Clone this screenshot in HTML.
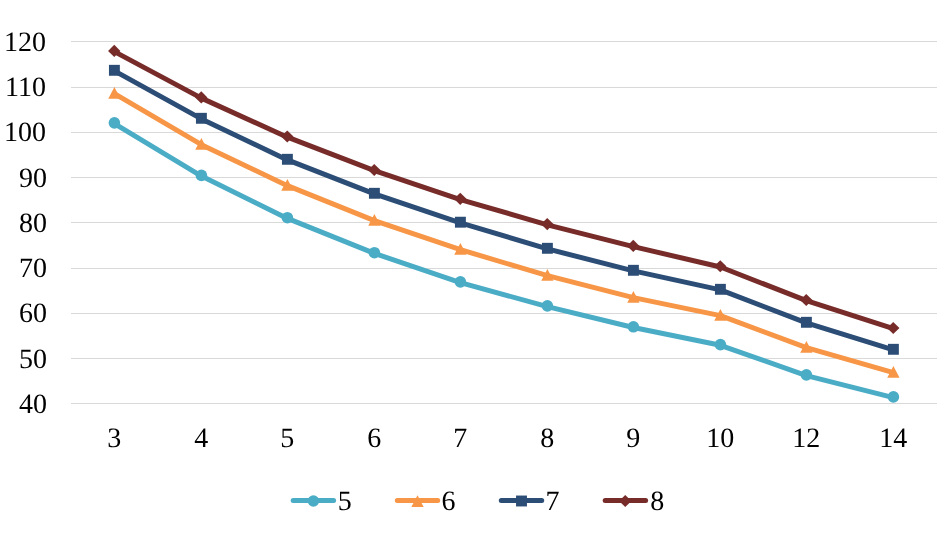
<!DOCTYPE html>
<html><head><meta charset="utf-8"><style>
html,body{margin:0;padding:0;background:#fff;overflow:hidden}
svg{display:block;will-change:transform}
text{font-family:"Liberation Serif",serif;font-size:28px;fill:#000;text-rendering:geometricPrecision}
</style></head><body>
<svg width="951" height="550" viewBox="0 0 951 550">
<rect width="951" height="550" fill="#fff"/>
<rect x="71" y="41" width="866" height="1" fill="#d9d9d9"/>
<rect x="71" y="87" width="866" height="1" fill="#d9d9d9"/>
<rect x="71" y="132" width="866" height="1" fill="#d9d9d9"/>
<rect x="71" y="177" width="866" height="1" fill="#d9d9d9"/>
<rect x="71" y="222" width="866" height="1" fill="#d9d9d9"/>
<rect x="71" y="268" width="866" height="1" fill="#d9d9d9"/>
<rect x="71" y="313" width="866" height="1" fill="#d9d9d9"/>
<rect x="71" y="358" width="866" height="1" fill="#d9d9d9"/>
<rect x="71" y="403" width="866" height="1" fill="#d9d9d9"/>
<text x="46" y="51.2" text-anchor="end">120</text>
<text x="46" y="96.2" text-anchor="end">110</text>
<text x="46" y="141.2" text-anchor="end">100</text>
<text x="46.9" y="187.2" text-anchor="end">90</text>
<text x="46.9" y="232.2" text-anchor="end">80</text>
<text x="46.9" y="277.2" text-anchor="end">70</text>
<text x="46.9" y="322.2" text-anchor="end">60</text>
<text x="46.9" y="368.2" text-anchor="end">50</text>
<text x="46.9" y="413.2" text-anchor="end">40</text>
<text x="114.2" y="447" text-anchor="middle">3</text>
<text x="201.2" y="447" text-anchor="middle">4</text>
<text x="287.2" y="447" text-anchor="middle">5</text>
<text x="374.2" y="447" text-anchor="middle">6</text>
<text x="460.2" y="447" text-anchor="middle">7</text>
<text x="547.2" y="447" text-anchor="middle">8</text>
<text x="633.2" y="447" text-anchor="middle">9</text>
<text x="720.2" y="447" text-anchor="middle">10</text>
<text x="806.2" y="447" text-anchor="middle">12</text>
<text x="893.2" y="447" text-anchor="middle">14</text>
<polyline points="114.40,123.60 201.40,176.10 287.40,218.40 374.40,253.40 460.40,282.60 547.40,306.60 633.40,327.50 720.40,345.30 806.40,375.60 893.40,397.60" fill="none" stroke="#4BACC6" stroke-width="5.0" stroke-linejoin="round" stroke-linecap="round"/>
<circle cx="114.40" cy="122.90" r="5.80" fill="#4BACC6"/>
<circle cx="201.40" cy="175.40" r="5.80" fill="#4BACC6"/>
<circle cx="287.40" cy="217.70" r="5.80" fill="#4BACC6"/>
<circle cx="374.40" cy="252.70" r="5.80" fill="#4BACC6"/>
<circle cx="460.40" cy="281.90" r="5.80" fill="#4BACC6"/>
<circle cx="547.40" cy="305.90" r="5.80" fill="#4BACC6"/>
<circle cx="633.40" cy="326.80" r="5.80" fill="#4BACC6"/>
<circle cx="720.40" cy="344.60" r="5.80" fill="#4BACC6"/>
<circle cx="806.40" cy="374.90" r="5.80" fill="#4BACC6"/>
<circle cx="893.40" cy="396.90" r="5.80" fill="#4BACC6"/>
<polyline points="114.40,93.67 201.40,144.67 287.40,185.67 374.40,220.67 460.40,249.67 547.40,275.67 633.40,297.67 720.40,315.67 806.40,347.67 893.40,372.67" fill="none" stroke="#F79646" stroke-width="5.0" stroke-linejoin="round" stroke-linecap="round"/>
<path d="M114.40,86.97 L120.55,98.67 L108.25,98.67Z" fill="#F79646"/>
<path d="M201.40,137.97 L207.55,149.67 L195.25,149.67Z" fill="#F79646"/>
<path d="M287.40,178.97 L293.55,190.67 L281.25,190.67Z" fill="#F79646"/>
<path d="M374.40,213.97 L380.55,225.67 L368.25,225.67Z" fill="#F79646"/>
<path d="M460.40,242.97 L466.55,254.67 L454.25,254.67Z" fill="#F79646"/>
<path d="M547.40,268.97 L553.55,280.67 L541.25,280.67Z" fill="#F79646"/>
<path d="M633.40,290.97 L639.55,302.67 L627.25,302.67Z" fill="#F79646"/>
<path d="M720.40,308.97 L726.55,320.67 L714.25,320.67Z" fill="#F79646"/>
<path d="M806.40,340.97 L812.55,352.67 L800.25,352.67Z" fill="#F79646"/>
<path d="M893.40,365.97 L899.55,377.67 L887.25,377.67Z" fill="#F79646"/>
<polyline points="114.40,70.90 201.40,118.90 287.40,159.90 374.40,193.90 460.40,222.80 547.40,248.90 633.40,270.90 720.40,289.90 806.40,322.90 893.40,349.90" fill="none" stroke="#2C4D75" stroke-width="5.0" stroke-linejoin="round" stroke-linecap="round"/>
<rect x="108.95" y="64.85" width="10.90" height="10.90" fill="#2C4D75"/>
<rect x="195.95" y="112.85" width="10.90" height="10.90" fill="#2C4D75"/>
<rect x="281.95" y="153.85" width="10.90" height="10.90" fill="#2C4D75"/>
<rect x="368.95" y="187.85" width="10.90" height="10.90" fill="#2C4D75"/>
<rect x="454.95" y="216.75" width="10.90" height="10.90" fill="#2C4D75"/>
<rect x="541.95" y="242.85" width="10.90" height="10.90" fill="#2C4D75"/>
<rect x="627.95" y="264.85" width="10.90" height="10.90" fill="#2C4D75"/>
<rect x="714.95" y="283.85" width="10.90" height="10.90" fill="#2C4D75"/>
<rect x="800.95" y="316.85" width="10.90" height="10.90" fill="#2C4D75"/>
<rect x="887.95" y="343.85" width="10.90" height="10.90" fill="#2C4D75"/>
<polyline points="114.40,51.60 201.40,98.10 287.40,137.20 374.40,170.70 460.40,199.55 547.40,224.80 633.40,246.60 720.40,267.00 806.40,300.70 893.40,328.70" fill="none" stroke="#772C2A" stroke-width="5.0" stroke-linejoin="round" stroke-linecap="round"/>
<path d="M114.25,44.85 L120.45,50.90 L114.25,56.95 L108.05,50.90Z" fill="#772C2A"/>
<path d="M201.25,91.35 L207.45,97.40 L201.25,103.45 L195.05,97.40Z" fill="#772C2A"/>
<path d="M287.25,130.45 L293.45,136.50 L287.25,142.55 L281.05,136.50Z" fill="#772C2A"/>
<path d="M374.25,163.95 L380.45,170.00 L374.25,176.05 L368.05,170.00Z" fill="#772C2A"/>
<path d="M460.25,192.80 L466.45,198.85 L460.25,204.90 L454.05,198.85Z" fill="#772C2A"/>
<path d="M547.25,218.05 L553.45,224.10 L547.25,230.15 L541.05,224.10Z" fill="#772C2A"/>
<path d="M633.25,239.85 L639.45,245.90 L633.25,251.95 L627.05,245.90Z" fill="#772C2A"/>
<path d="M720.25,260.25 L726.45,266.30 L720.25,272.35 L714.05,266.30Z" fill="#772C2A"/>
<path d="M806.25,293.95 L812.45,300.00 L806.25,306.05 L800.05,300.00Z" fill="#772C2A"/>
<path d="M893.25,321.95 L899.45,328.00 L893.25,334.05 L887.05,328.00Z" fill="#772C2A"/>
<line x1="293.2" y1="500.5" x2="333.6" y2="500.5" stroke="#4BACC6" stroke-width="5.0" stroke-linecap="round"/>
<circle cx="313.40" cy="501.00" r="5.80" fill="#4BACC6"/>
<text x="337.8" y="510">5</text>
<line x1="397.3" y1="500.5" x2="437.7" y2="500.5" stroke="#F79646" stroke-width="5.0" stroke-linecap="round"/>
<path d="M417.50,495.30 L423.65,507.00 L411.35,507.00Z" fill="#F79646"/>
<text x="441.4" y="510">6</text>
<line x1="501.3" y1="500.5" x2="541.7" y2="500.5" stroke="#2C4D75" stroke-width="5.0" stroke-linecap="round"/>
<rect x="516.05" y="495.55" width="10.90" height="10.90" fill="#2C4D75"/>
<text x="545.5" y="510">7</text>
<line x1="605.2" y1="500.5" x2="645.6" y2="500.5" stroke="#772C2A" stroke-width="5.0" stroke-linecap="round"/>
<path d="M625.25,494.95 L631.45,501.00 L625.25,507.05 L619.05,501.00Z" fill="#772C2A"/>
<text x="650.3" y="510">8</text>
</svg>
</body></html>
